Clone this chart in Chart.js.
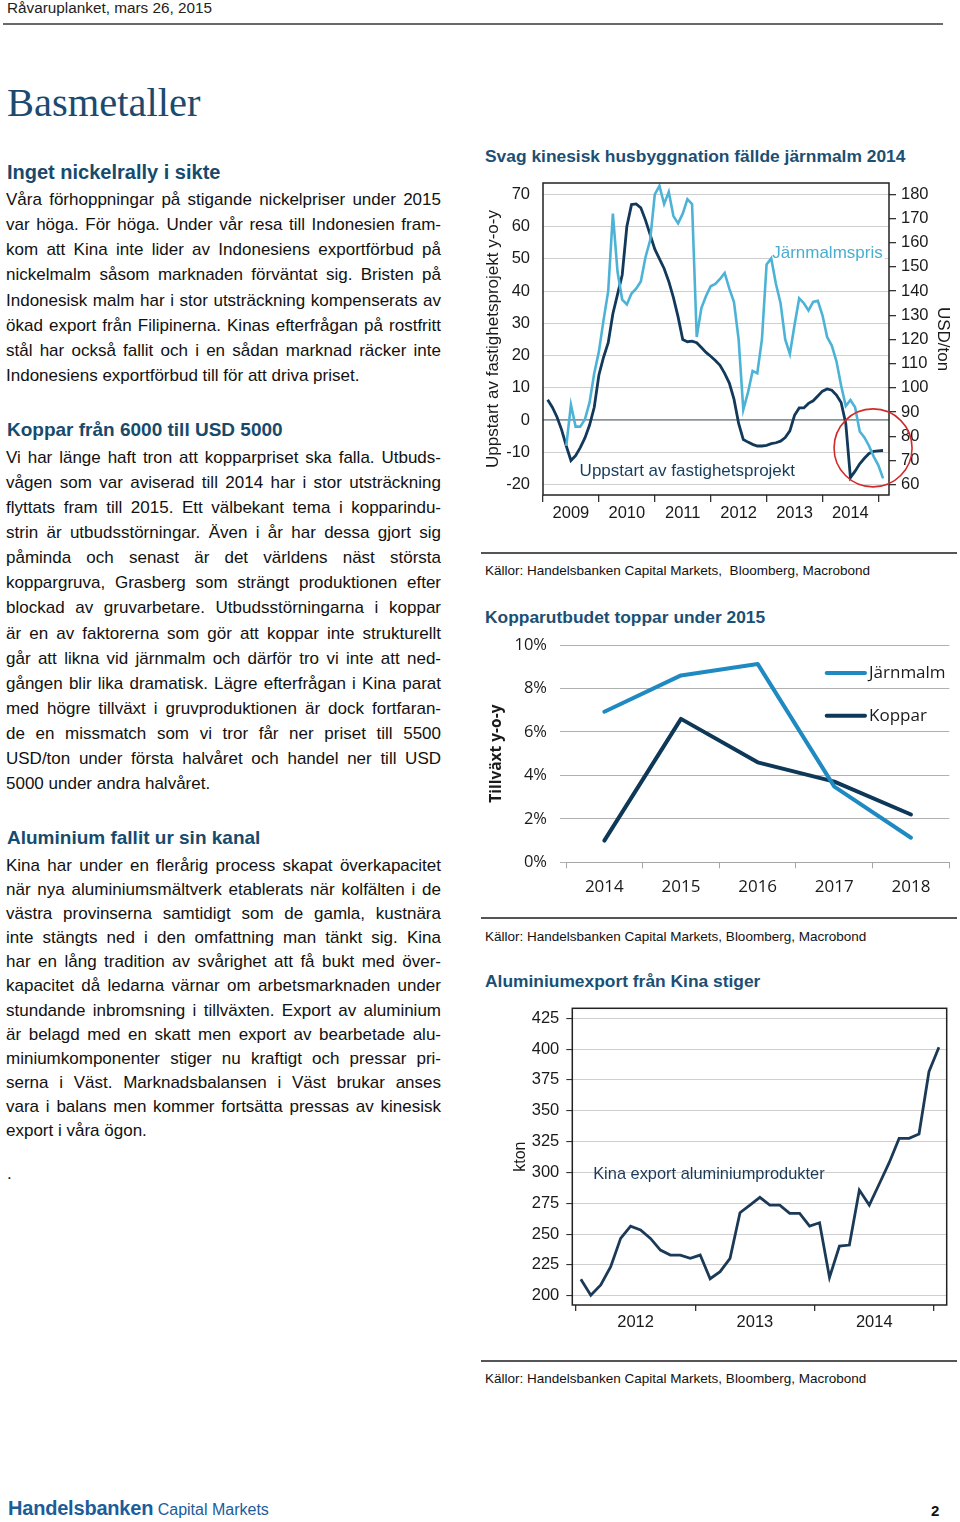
<!DOCTYPE html>
<html lang="sv">
<head>
<meta charset="UTF-8">
<meta name="viewport" content="width=device-width, initial-scale=1.0">
<title>Råvaruplanket – Basmetaller</title>
<script src="https://cdn.jsdelivr.net/npm/chart.js"></script>
<style>
  html, body { margin: 0; padding: 0; }
  body { position: relative; width: 960px; height: 1522px; overflow: hidden; background: #fff;
         font-family: "Liberation Sans", Arial, sans-serif; color: #111; }
  .t { position: absolute; white-space: pre; line-height: 20px; }
  .ln { position: absolute; left: 6px; white-space: pre; font-size: 17px; line-height: 20px; color: #111; }
  .head { left: 7px; font-weight: bold; color: #174a6c; }
  .ctitle { left: 485px; font-size: 17.4px; font-weight: bold; color: #1b4f73; }
  .src { left: 485px; font-size: 13.5px; color: #111; }
  .rule { position: absolute; background: #555; }
  .box { position: absolute; left: 480px; }
</style>
</head>
<body>
<div class="t" style="left:7px; top:-2px; font-size:15.3px; color:#222;">Råvaruplanket, mars 26, 2015</div>
<div class="rule" style="left:3px; top:23px; width:940px; height:2px; background:#6a6a6a;"></div>
<div class="t" style="left:7px; top:78px; line-height:50px; font-family:'Liberation Serif', serif; font-size:40.5px; color:#1b4a6e;">Basmetaller</div>

<div class="t head" style="top:162px; font-size:20px;">Inget nickelrally i sikte</div>
<div class="t head" style="top:420px; font-size:19px;">Koppar från 6000 till USD 5000</div>
<div class="t head" style="top:828px; font-size:19px;">Aluminium fallit ur sin kanal</div>
<div class="t" style="left:7px; top:1164px; font-size:17px;">.</div>

<div class="t ctitle" style="top:146px;">Svag kinesisk husbyggnation fällde järnmalm 2014</div>
<div class="box" style="top:175px; width:480px; height:360px;"><canvas id="c1" width="480" height="360"></canvas></div>
<div class="rule" style="left:481px; top:552px; width:476px; height:1.5px;"></div>
<div class="t src" style="top:561px;">Källor: Handelsbanken Capital Markets,  Bloomberg, Macrobond</div>

<div class="t ctitle" style="top:607px;">Kopparutbudet toppar under 2015</div>
<div class="box" style="top:630px; width:480px; height:280px;"><canvas id="c2" width="480" height="280"></canvas></div>
<div class="rule" style="left:481px; top:917px; width:476px; height:1.5px;"></div>
<div class="t src" style="top:927px;">Källor: Handelsbanken Capital Markets, Bloomberg, Macrobond</div>

<div class="t ctitle" style="top:971px;">Aluminiumexport från Kina stiger</div>
<div class="box" style="top:995px; width:480px; height:345px;"><canvas id="c3" width="480" height="345"></canvas></div>
<div class="rule" style="left:481px; top:1360px; width:476px; height:1.5px;"></div>
<div class="t src" style="top:1369px;">Källor: Handelsbanken Capital Markets, Bloomberg, Macrobond</div>

<div class="t" style="left:8px; top:1496px; line-height:24px; color:#1b5c9b;"><span style="font-weight:bold; font-size:20px; letter-spacing:-0.2px;">Handelsbanken</span><span style="font-size:16px;"> Capital Markets</span></div>
<div class="t" style="left:931px; top:1501px; font-size:15px; font-weight:bold;">2</div>

<script>
// ---- brödtext, en rad per element (radbrytningar som i originalet) ----
const paragraphs = [
  { y: 200, step: 25.14, lines: [
    'Våra förhoppningar på stigande nickelpriser under 2015',
    'var höga. För höga. Under vår resa till Indonesien fram-',
    'kom att Kina inte lider av Indonesiens exportförbud på',
    'nickelmalm såsom marknaden förväntat sig. Bristen på',
    'Indonesisk malm har i stor utsträckning kompenserats av',
    'ökad export från Filipinerna. Kinas efterfrågan på rostfritt',
    'stål har också fallit och i en sådan marknad räcker inte',
    'Indonesiens exportförbud till för att driva priset.'] },
  { y: 458, step: 25.08, lines: [
    'Vi har länge haft tron att kopparpriset ska falla. Utbuds-',
    'vågen som var aviserad till 2014 har i stor utsträckning',
    'flyttats fram till 2015. Ett välbekant tema i kopparindu-',
    'strin är utbudsstörningar. Även i år har dessa gjort sig',
    'påminda och senast är det världens näst största',
    'koppargruva, Grasberg som strängt produktionen efter',
    'blockad av gruvarbetare. Utbudsstörningarna i koppar',
    'är en av faktorerna som gör att koppar inte strukturellt',
    'går att likna vid järnmalm och därför tro vi inte att ned-',
    'gången blir lika dramatisk. Lägre efterfrågan i Kina parat',
    'med högre tillväxt i gruvproduktionen är dock fortfaran-',
    'de en missmatch som vi tror får ner priset till 5500',
    'USD/ton under första halvåret och handel ner till USD',
    '5000 under andra halvåret.'] },
  { y: 866, step: 24.09, lines: [
    'Kina har under en flerårig process skapat överkapacitet',
    'när nya aluminiumsmältverk etablerats när kolfälten i de',
    'västra provinserna samtidigt som de gamla, kustnära',
    'inte stängts ned i den omfattning man tänkt sig. Kina',
    'har en lång tradition av svårighet att få bukt med över-',
    'kapacitet då ledarna värnar om arbetsmarknaden under',
    'stundande inbromsning i tillväxten. Export av aluminium',
    'är belagd med en skatt men export av bearbetade alu-',
    'miniumkomponenter stiger nu kraftigt och pressar pri-',
    'serna i Väst. Marknadsbalansen i Väst brukar anses',
    'vara i balans men kommer fortsätta pressas av kinesisk',
    'export i våra ögon.'] }
];
const colWidth = 435;
paragraphs.forEach(p => p.lines.forEach((txt, i) => {
  const d = document.createElement('div');
  d.className = 'ln';
  d.textContent = txt;
  d.style.top = (p.y + i * p.step - 10) + 'px';
  document.body.appendChild(d);
  if (i < p.lines.length - 1) {
    const gaps = txt.split(' ').length - 1;
    const w = d.getBoundingClientRect().width;
    d.style.wordSpacing = ((colWidth - w) / gaps) + 'px';
  }
}));

// ---- data: diagram 1 (månadsdata) ----
const startsFirstMonth = '2009-02';
const housingStarts = [
  6.3, 4, 1, -3, -8, -12.5, -11, -8.5, -5.5, -1.5, 4,
  14, 19.5, 24, 33, 39, 45, 60, 66.8, 67, 65.8, 62, 57.5,
  53, 50, 47, 43, 38, 32, 25, 24.3, 24.5, 24, 22.5, 21,
  19.8, 18.5, 17, 14.5, 11.5, 6.5, -1, -6, -6.8, -7.5, -8, -8,
  -7.8, -7.3, -7, -6.5, -5.4, -3.3, 1.5, 3.8, 3.8, 5.2, 6, 7.5,
  9, 9.7, 9.3, 7.8, 5.5, -1, -17.8, -15.8, -13.5, -11.8, -10.3, -9.7,
  -9.5, -9.4
];
const ironFirstMonth = '2009-06';
const ironOrePrice = [
  76, 93, 84, 84, 87, 94, 106,
  115, 128, 140, 172, 148, 136.5, 134.5, 139, 141, 144, 154, 161,
  180, 183.5, 176, 181, 171, 168, 172, 178, 176, 121, 133, 138,
  142, 143, 145, 147.5, 141, 135.5, 120, 91, 98, 107, 106, 120,
  151, 153.5, 143, 135, 120, 114, 126, 137, 135, 132, 135.5, 136,
  130, 121, 117.5, 111, 101, 92.5, 95, 92, 82, 79.5, 76, 71.6,
  68, 62.6
];
const yearTicks1 = [2009, 2010, 2011, 2012, 2013, 2014, 2015];
const leftTicks1 = [-20, -10, 0, 10, 20, 30, 40, 50, 60, 70];
const rightTicks1 = [60, 70, 80, 90, 100, 110, 120, 130, 140, 150, 160, 170, 180];

// ---- data: diagram 2 ----
const years2 = ['2014', '2015', '2016', '2017', '2018'];
const ironSupply = [6.93, 8.6, 9.13, 3.48, 1.13];
const copperSupply = [1.0, 6.6, 4.6, 3.71, 2.2];

// ---- data: diagram 3 ----
const alumFirstMonth = '2012-01';
const alumExport = [
  213.3, 200.5, 208.7, 223.5, 246.5, 256.5, 253.3, 246.5, 237, 233, 233, 230.3,
  233, 213.8, 219.5, 230.3, 267.3, 273.5, 279.8, 273.5, 273.5, 266.8, 266.8, 256.5,
  259.2, 214.9, 240.3, 241.1, 285.7, 273.5, 290.6, 307.9, 327.6, 327.6, 331.2, 381.7,
  401.5
];
const yearTicks3 = [2012, 2013, 2014, 2015];
const alumTicks = [200, 225, 250, 275, 300, 325, 350, 375, 400, 425];

// ---- hjälpfunktioner ----
function monthly(first, values, shift) {
  const [y, m] = first.split('-').map(Number);
  return values.map((v, i) => ({ x: y + (m - 1 + i + shift) / 12, y: v }));
}
function withMidYears(years) {
  const out = [];
  years.forEach((y, i) => { out.push(y); if (i < years.length - 1) out.push(y + 0.5); });
  return out;
}
const fix = (w, h) => s => {
  if (w != null) s.width = w;
  if (h != null) s.height = h;
  s.paddingTop = s.paddingBottom = s.paddingLeft = s.paddingRight = 0;
};
const setTicks = vals => s => { s.ticks = vals.map(v => ({ value: v })); };
const isYear = ctx => ctx.tick && ctx.tick.value % 1 === 0;

const frame = {
  id: 'frame',
  afterDatasetsDraw(chart, args, o) {
    const { ctx, chartArea: a } = chart;
    ctx.save();
    ctx.strokeStyle = o.color;
    ctx.lineWidth = o.width;
    ctx.strokeRect(a.left, a.top, a.right - a.left, a.bottom - a.top);
    ctx.restore();
  }
};
const notes = {
  id: 'notes',
  beforeDatasetsDraw(chart, args, o) {
    const { ctx, scales } = chart;
    ctx.save();
    (o.texts || []).forEach(n => {
      const x = scales.x.getPixelForValue(n.x), y = scales[n.axis].getPixelForValue(n.y);
      ctx.font = n.font;
      ctx.textBaseline = 'middle';
      ctx.textAlign = 'left';
      if (n.bg) {
        const w = ctx.measureText(n.text).width;
        ctx.fillStyle = n.bg;
        ctx.fillRect(x - 2, y - 10, w + 4, 20);
      }
      ctx.fillStyle = n.color;
      ctx.fillText(n.text, x, y);
    });
    ctx.restore();
  },
  afterDraw(chart, args, o) {
    const { ctx, scales } = chart;
    ctx.save();
    (o.rings || []).forEach(r => {
      ctx.beginPath();
      ctx.arc(scales.x.getPixelForValue(r.x), scales[r.axis].getPixelForValue(r.y), r.r, 0, Math.PI * 2);
      ctx.strokeStyle = r.color;
      ctx.lineWidth = r.width;
      ctx.stroke();
    });
    ctx.restore();
  }
};
const lineLegend = {
  id: 'lineLegend',
  afterDraw(chart, args, o) {
    const { ctx, chartArea: a } = chart;
    ctx.save();
    ctx.font = o.font;
    ctx.textBaseline = 'middle';
    chart.data.datasets.forEach((ds, i) => {
      const y = a.top + o.top + i * o.gap;
      const x0 = a.right - o.right;
      ctx.strokeStyle = ds.borderColor;
      ctx.lineWidth = ds.borderWidth;
      ctx.lineCap = 'round';
      ctx.beginPath(); ctx.moveTo(x0, y); ctx.lineTo(x0 + o.len, y); ctx.stroke();
      ctx.fillStyle = o.color;
      ctx.fillText(ds.label, x0 + o.len + 4, y);
    });
    ctx.restore();
  }
};

Chart.defaults.font.family = '"Liberation Sans", Arial, sans-serif';
Chart.defaults.color = '#1a1a1a';

const light = '#4db3d6', navy = '#12385a';

// ---- diagram 1 ----
new Chart(document.getElementById('c1'), {
  type: 'line',
  data: { datasets: [
    { label: 'Järnmalmspris', data: monthly(ironFirstMonth, ironOrePrice, 0), yAxisID: 'yR',
      borderColor: light, borderWidth: 2.6, pointRadius: 0, tension: 0 },
    { label: 'Uppstart av fastighetsprojekt', data: monthly(startsFirstMonth, housingStarts, 0), yAxisID: 'yL',
      borderColor: navy, borderWidth: 2.8, pointRadius: 0, tension: 0 }
  ]},
  options: {
    responsive: false, animation: false, devicePixelRatio: 1,
    layout: { padding: { top: 8 } },
    plugins: {
      legend: { display: false }, tooltip: { enabled: false },
      frame: { color: '#222', width: 1.5 },
      notes: {
        texts: [
          { text: 'Järnmalmspris', x: 2013.10, axis: 'yL', y: 51.8, font: '17px "Liberation Sans", Arial', color: '#4aaed0', bg: '#fff' },
          { text: 'Uppstart av fastighetsprojekt', x: 2009.655, axis: 'yL', y: -16, font: '17px "Liberation Sans", Arial', color: '#173c5c' }
        ],
        rings: [ { x: 2014.905, axis: 'yL', y: -8.6, r: 39, color: '#d22a2a', width: 1.6 } ]
      }
    },
    scales: {
      x: {
        type: 'linear', min: 2009, max: 2015.19,
        afterBuildTicks: setTicks(withMidYears(yearTicks1)),
        afterFit: fix(null, 40),
        ticks: { autoSkip: false, maxRotation: 0, padding: 2, font: { size: 16.5 },
                 callback: v => v % 1 === 0 ? '' : String(Math.floor(v)) },
        grid: { drawOnChartArea: false, tickLength: 7, lineWidth: 1.3,
                color: ctx => isYear(ctx) ? '#333' : 'rgba(0,0,0,0)' },
        border: { display: false }
      },
      yL: {
        position: 'left', min: -23.19, max: 73.5,
        afterBuildTicks: setTicks(leftTicks1),
        afterFit: fix(63, null),
        ticks: { padding: 13, font: { size: 16.5 } },
        grid: { drawTicks: false,
                color: ctx => ctx.tick && ctx.tick.value === 0 ? '#8a959b' : '#cfcfcf',
                lineWidth: ctx => ctx.tick && ctx.tick.value === 0 ? 1.8 : 1.1 },
        border: { display: false },
        title: { display: true, text: 'Uppstart av fastighetsprojekt y-o-y', font: { size: 17 }, padding: { top: 3, bottom: 0 } }
      },
      yR: {
        position: 'right', min: 55.73, max: 184.67,
        afterBuildTicks: setTicks(rightTicks1),
        afterFit: fix(71, null),
        ticks: { padding: 5, font: { size: 16.5 } },
        grid: { drawOnChartArea: false, tickLength: 7, color: '#333', lineWidth: 1.3 },
        border: { display: false },
        title: { display: true, text: 'USD/ton', font: { size: 17 }, padding: { top: 7, bottom: 0 } }
      }
    }
  },
  plugins: [frame, notes]
});

// ---- diagram 2 ----
const xlFont = { family: '"Open Sans", "Liberation Sans", sans-serif', size: 17 };
new Chart(document.getElementById('c2'), {
  type: 'line',
  data: { labels: years2, datasets: [
    { label: 'Järnmalm', data: ironSupply, borderColor: '#1f89c2', borderWidth: 4, pointRadius: 0,
      borderCapStyle: 'round', borderJoinStyle: 'round' },
    { label: 'Koppar', data: copperSupply, borderColor: '#0e3858', borderWidth: 4, pointRadius: 0,
      borderCapStyle: 'round', borderJoinStyle: 'round' }
  ]},
  options: {
    responsive: false, animation: false, devicePixelRatio: 1,
    layout: { padding: { top: 15, right: 10.7 } },
    plugins: {
      legend: { display: false }, tooltip: { enabled: false },
      lineLegend: { top: 28, gap: 42.7, right: 122.6, len: 38.3, font: '17px "Open Sans", "Liberation Sans", sans-serif', color: '#1a1a1a' }
    },
    scales: {
      x: {
        type: 'category', offset: true,
        afterFit: fix(null, 47.7),
        ticks: { padding: 8.5, font: xlFont, maxRotation: 0 },
        grid: { offset: true, drawOnChartArea: false, tickLength: 6, color: '#a6a6a6' },
        border: { color: '#a6a6a6' }
      },
      y: {
        min: 0, max: 10,
        afterFit: fix(86, null),
        ticks: { stepSize: 2, padding: 13, font: { family: xlFont.family, size: 16.5 }, callback: v => v + '%' },
        grid: { color: '#b0b0b0', tickLength: 6 },
        border: { display: false },
        title: { display: true, text: 'Tillväxt y-o-y', font: { family: xlFont.family, size: 15.5, weight: 'bold' }, padding: { top: 7, bottom: 0 } }
      }
    }
  },
  plugins: [lineLegend]
});

// ---- diagram 3 ----
new Chart(document.getElementById('c3'), {
  type: 'line',
  data: { datasets: [
    { label: 'Kina export aluminiumprodukter', data: monthly(alumFirstMonth, alumExport, 0.5),
      borderColor: '#1b3a57', borderWidth: 2.8, pointRadius: 0, tension: 0 }
  ]},
  options: {
    responsive: false, animation: false, devicePixelRatio: 1,
    layout: { padding: { top: 13.3, right: 13.3 } },
    plugins: {
      legend: { display: false }, tooltip: { enabled: false },
      frame: { color: '#222', width: 1.5 },
      notes: {
        texts: [ { text: 'Kina export aluminiumprodukter', x: 2012.145, axis: 'y', y: 298.7, font: '16.4px "Liberation Sans", Arial', color: '#1b3a57' } ]
      }
    },
    scales: {
      x: {
        type: 'linear', min: 2011.97, max: 2015.107,
        afterBuildTicks: setTicks(withMidYears(yearTicks3)),
        afterFit: fix(null, 35),
        ticks: { autoSkip: false, maxRotation: 0, padding: 2, font: { size: 16.5 },
                 callback: v => v % 1 === 0 ? '' : String(Math.floor(v)) },
        grid: { drawOnChartArea: false, tickLength: 6, lineWidth: 1.3,
                color: ctx => isYear(ctx) ? '#333' : 'rgba(0,0,0,0)' },
        border: { display: false }
      },
      y: {
        min: 192.5, max: 433.1,
        afterBuildTicks: setTicks(alumTicks),
        afterFit: fix(92.3, null),
        ticks: { padding: 7, font: { size: 16.5 } },
        grid: { color: '#cfcfcf', lineWidth: 1.1, tickLength: 6, tickColor: '#333' },
        border: { display: false },
        title: { display: true, text: 'kton', font: { size: 16 }, padding: { top: 31, bottom: 0 } }
      }
    }
  },
  plugins: [frame, notes]
});
</script>
</body>
</html>
